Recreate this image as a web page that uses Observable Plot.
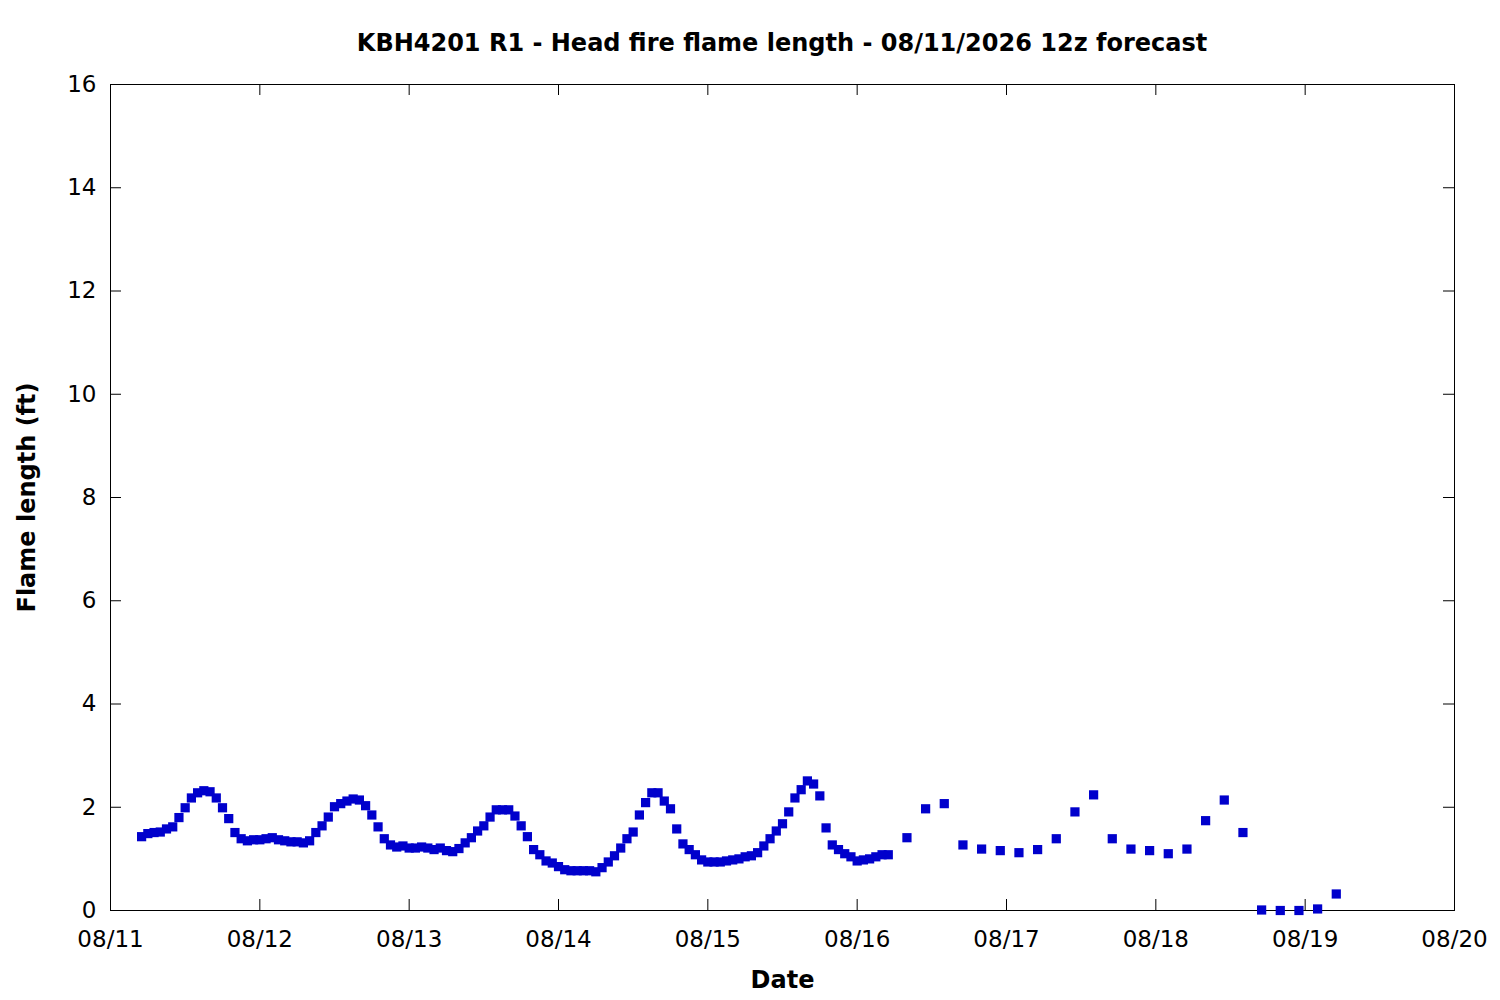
<!DOCTYPE html>
<html>
<head>
<meta charset="utf-8">
<script src="https://cdn.jsdelivr.net/npm/d3@7"></script>
<script src="https://cdn.jsdelivr.net/npm/@observablehq/plot@0.6"></script>
<style>
  html, body { margin: 0; padding: 0; background: #fff; }
  #wrap { width: 1500px; height: 1000px; position: relative; font-family: "DejaVu Sans", sans-serif; }
  #title { box-sizing: border-box; width: 1500px; height: 60px; padding: 30px 46px 0 110px; text-align: center;
           font-size: 24px; font-weight: bold; line-height: 26px; color: #000; }
  #chart svg { display: block; }
</style>
</head>
<body>
<div id="wrap">
  <div id="title">KBH4201 R1 - Head fire flame length - 08/11/2026 12z forecast</div>
  <div id="chart"></div>
</div>
<script>
// Hourly forecast values (ft), starting 08/11 05:00, one per hour
const hourlyStart = "2026-08-11T05:00:00Z";
const hourlyValues = [
  1.43,1.49,1.51,1.52,1.58,1.62,1.80,1.99,2.18,2.28,2.32,2.30,2.18,1.99,1.78,1.51,1.39,1.35,1.37,1.37,
  1.39,1.41,1.37,1.35,1.33,1.33,1.31,1.35,1.51,1.64,1.81,2.01,2.07,2.12,2.16,2.14,2.03,1.85,1.62,1.39,1.27,
  1.23,1.25,1.21,1.21,1.23,1.21,1.18,1.21,1.16,1.14,1.20,1.31,1.41,1.54,1.64,1.81,1.95,1.95,1.95,1.83,
  1.64,1.43,1.18,1.08,0.96,0.92,0.85,0.79,0.77,0.77,0.77,0.77,0.75,0.83,0.94,1.06,1.21,1.39,1.52,1.85,
  2.09,2.28,2.28,2.12,1.97,1.58,1.29,1.18,1.08,0.98,0.94,0.94,0.94,0.96,0.98,1.00,1.04,1.06,1.12,1.25,
  1.39,1.54,1.68,1.91,2.18,2.34,2.51,2.45,2.22,1.60,1.27,1.18,1.10,1.04,0.96,0.98,1.00,1.04,1.08,1.08
];
// 3-hourly forecast values (ft), starting 08/16 08:00
const threeHourlyStart = "2026-08-16T08:00:00Z";
const threeHourlyValues = [
  1.41,1.97,2.07,1.27,1.19,1.16,1.12,1.18,1.39,1.91,2.24,1.39,
  1.19,1.16,1.10,1.19,1.74,2.14,1.51,0.01,0.00,0.00,0.03,0.32
];
const xDomain = ["2026-08-11", "2026-08-20"];
const yTicks = [0, 2, 4, 6, 8, 10, 12, 14, 16];
const titleText = "KBH4201 R1 - Head fire flame length - 08/11/2026 12z forecast";
const xLabel = "Date";
const yLabel = "Flame length (ft)";

const HOUR = 3600 * 1000;
const hStart = new Date(hourlyStart).getTime();
const tStart = new Date(threeHourlyStart).getTime();
const points = [
  ...hourlyValues.map((v, i) => ({date: new Date(hStart + i * HOUR), value: v})),
  ...threeHourlyValues.map((v, i) => ({date: new Date(tStart + i * 3 * HOUR), value: v}))
];
const dayTicks = d3.utcDay.range(new Date(xDomain[0] + "T00:00:00Z"), new Date(new Date(xDomain[1] + "T00:00:00Z").getTime() + 1));

const W = 1500, H = 940;
const mL = 110, mR = 46, mT = 24, mB = 90;
const fw = W - mL - mR, fh = H - mT - mB;
const tk = 11;

const chart = Plot.plot({
  width: W, height: H,
  marginLeft: mL, marginRight: mR, marginTop: mT, marginBottom: mB,
  style: {fontFamily: "DejaVu Sans, sans-serif", fontSize: "23px", color: "#000", background: "#fff", overflow: "visible"},
  x: {type: "utc", domain: [new Date(xDomain[0] + "T00:00:00Z"), new Date(xDomain[1] + "T00:00:00Z")]},
  y: {domain: [0, 16]},
  marks: [
    Plot.axisX({ticks: dayTicks, tickFormat: d3.utcFormat("%m/%d"), tickSize: 0, tickPadding: 20, label: null}),
    Plot.axisY({ticks: yTicks, tickSize: 0, tickPadding: 14, label: null}),
    Plot.tickX(dayTicks, {x: d => d, insetTop: fh - tk, stroke: "#000", strokeWidth: 1}),
    Plot.tickX(dayTicks, {x: d => d, insetBottom: fh - tk, stroke: "#000", strokeWidth: 1}),
    Plot.tickY(yTicks, {y: d => d, insetRight: fw - tk, stroke: "#000", strokeWidth: 1}),
    Plot.tickY(yTicks, {y: d => d, insetLeft: fw - tk, stroke: "#000", strokeWidth: 1}),
    Plot.frame({stroke: "#000", strokeWidth: 1}),
    Plot.dot(points, {x: "date", y: "value", symbol: "square", r: 5.2, fill: "#0000cc", stroke: null}),
    Plot.text([xLabel], {frameAnchor: "bottom", dy: 70, text: d => d, fontWeight: "bold", fontSize: 24, textAnchor: "middle", lineAnchor: "middle"}),
    Plot.text([yLabel], {frameAnchor: "left", dx: -83, rotate: -90, text: d => d, fontWeight: "bold", fontSize: 24, textAnchor: "middle", lineAnchor: "middle"})
  ]
});
document.getElementById("chart").appendChild(chart);
</script>
</body>
</html>
